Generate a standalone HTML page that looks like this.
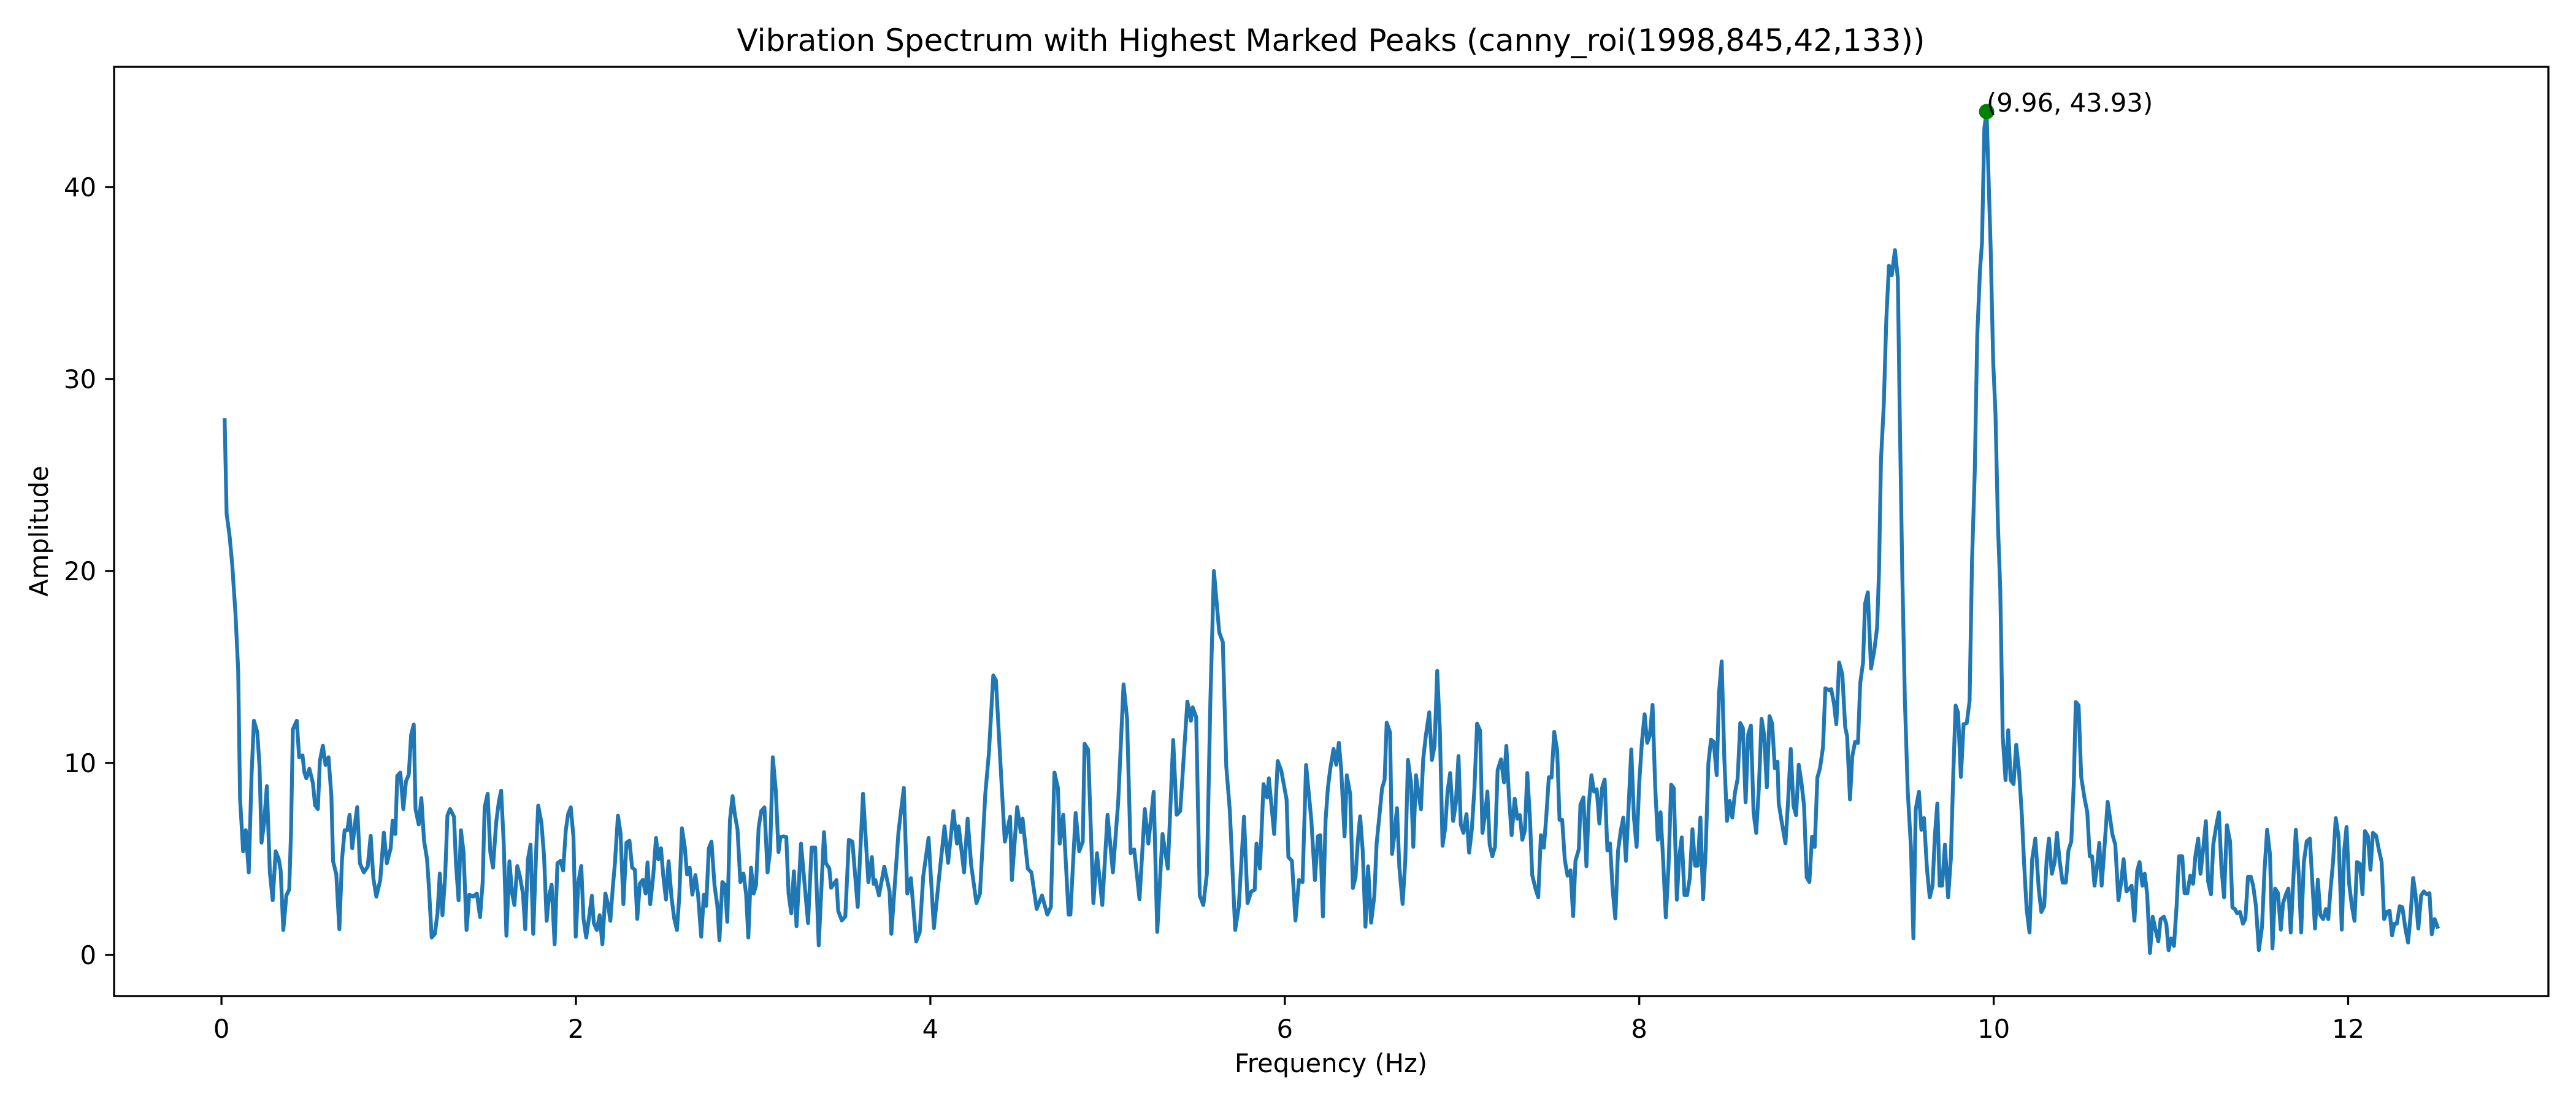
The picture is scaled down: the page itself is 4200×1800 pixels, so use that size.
<!DOCTYPE html>
<html><head><meta charset="utf-8"><style>
html,body{margin:0;padding:0;background:#fff;}
svg{display:block;font-family:"DejaVu Sans","Liberation Sans",sans-serif;}
</style></head><body>
<svg id="chart" width="4200" height="1800" viewBox="0 0 4200 1800" xmlns="http://www.w3.org/2000/svg">
<rect width="4200" height="1800" fill="#fff"/>
<text x="2170" y="83" font-size="50" text-anchor="middle">Vibration Spectrum with Highest Marked Peaks (canny_roi(1998,845,42,133))</text>
<g id="plot"></g>
<g id="xticks"></g>
<g id="yticks"></g>
<text x="2170" y="1748" font-size="41.7" text-anchor="middle">Frequency (Hz)</text>
<text x="0" y="0" font-size="41.7" text-anchor="middle" transform="translate(78,866) rotate(-90)">Amplitude</text>
<rect x="186" y="109" width="3969" height="1515" fill="none" stroke="#000" stroke-width="3.3"/>
</svg>
<script>
const freqs=[
0.018,0.029,0.046,0.061,0.079,0.094,0.105,0.122,0.137,0.154,
0.170,0.183,0.202,0.215,0.226,0.241,0.256,0.273,0.289,0.306,
0.323,0.334,0.349,0.366,0.382,0.392,0.403,0.425,0.438,0.457,
0.468,0.479,0.496,0.516,0.528,0.544,0.555,0.572,0.587,0.604,
0.620,0.630,0.648,0.665,0.680,0.695,0.710,0.723,0.738,0.754,
0.766,0.781,0.803,0.825,0.842,0.857,0.874,0.896,0.916,0.933,
0.955,0.966,0.981,0.992,1.009,1.026,1.041,1.057,1.070,1.085,
1.095,1.113,1.128,1.143,1.160,1.171,1.186,1.204,1.219,1.232,
1.247,1.262,1.275,1.290,1.312,1.323,1.338,1.351,1.366,1.383,
1.398,1.420,1.441,1.459,1.474,1.485,1.502,1.517,1.532,1.550,
1.565,1.578,1.593,1.608,1.625,1.640,1.653,1.669,1.684,1.701,
1.714,1.729,1.744,1.759,1.777,1.787,1.805,1.820,1.835,1.848,
1.863,1.880,1.896,1.913,1.928,1.943,1.956,1.971,1.986,1.999,
2.014,2.030,2.043,2.058,2.073,2.090,2.101,2.118,2.134,2.149,
2.166,2.181,2.194,2.209,2.220,2.237,2.252,2.268,2.285,2.302,
2.317,2.333,2.346,2.361,2.378,2.393,2.404,2.419,2.436,2.452,
2.465,2.480,2.493,2.508,2.523,2.540,2.555,2.570,2.583,2.598,
2.614,2.627,2.642,2.657,2.674,2.689,2.707,2.722,2.735,2.750,
2.765,2.782,2.798,2.810,2.826,2.841,2.854,2.869,2.884,2.897,
2.912,2.928,2.945,2.960,2.973,2.988,3.003,3.016,3.031,3.046,
3.064,3.081,3.096,3.111,3.128,3.143,3.154,3.172,3.187,3.200,3.215,3.230,3.245,
3.27,3.31,3.33,3.35,3.37,3.40,3.41,3.43,3.44,3.47,
3.48,3.50,3.52,3.54,3.56,3.59,3.62,3.65,3.67,3.68,
3.69,3.71,3.74,3.77,3.78,3.82,3.85,3.87,3.89,3.92,
3.94,3.96,3.99,4.02,4.05,4.08,4.10,4.13,4.15,4.16,
4.19,4.21,4.23,4.26,4.28,4.31,4.33,4.355,4.37,4.40,
4.42,4.45,4.46,4.49,4.51,4.52,4.55,4.57,4.60,4.63,
4.66,4.68,4.70,4.72,4.73,4.75,4.78,4.79,4.82,4.84,
4.86,4.87,4.89,4.92,4.94,4.97,5.00,5.03,5.06,5.09,
5.11,5.13,5.15,5.18,5.21,5.23,5.26,5.28,5.31,5.34,
5.37,5.39,5.41,5.45,5.47,5.48,5.50,5.52,5.54,5.56,
5.58,5.60,5.63,5.65,5.67,5.69,5.72,5.74,5.77,5.79,
5.81,5.83,5.84,5.86,5.88,5.90,5.91,5.94,5.96,5.98,
6.00,6.01,6.02,6.04,6.06,6.08,6.10,6.12,6.15,6.17,
6.187,6.200,6.215,6.230,6.243,6.256,6.275,6.290,6.305,6.318,
6.337,6.350,6.369,6.384,6.399,6.412,6.425,6.440,6.455,6.470,
6.487,6.505,6.518,6.534,6.549,6.563,6.575,6.594,6.605,6.618,
6.633,6.646,6.665,6.680,6.695,6.712,6.725,6.740,6.755,6.768,
6.781,6.796,6.815,6.830,6.845,6.860,6.875,6.890,6.905,6.918,
6.933,6.950,6.965,6.980,6.993,7.008,7.025,7.040,7.055,7.070,
7.085,7.102,7.115,7.130,7.143,7.156,7.171,7.186,7.201,7.220,
7.237,7.250,7.265,7.280,7.297,7.312,7.327,7.340,7.355,7.368,
7.383,7.396,7.415,7.430,7.445,7.462,7.475,7.490,7.505,7.520,
7.537,7.550,7.565,7.580,7.595,7.612,7.627,7.640,7.659,7.668,
7.685,7.702,7.715,7.730,7.745,7.760,7.775,7.790,7.805,7.820,
7.835,7.850,7.865,7.880,7.895,7.910,7.925,7.940,7.955,7.970,
7.985,8.000,8.015,8.030,8.045,8.060,8.075,8.090,8.105,8.120,
8.135,8.150,8.165,8.180,8.195,8.212,8.225,8.240,8.255,8.270,
8.285,8.300,8.315,8.330,8.345,8.360,8.375,8.390,8.405,8.420,
8.437,8.450,8.465,8.480,8.495,8.510,8.525,8.540,8.555,8.570,
8.585,8.600,8.615,8.630,8.645,8.660,8.675,8.690,8.705,8.720,
8.735,8.750,8.765,8.780,8.787,8.802,8.825,8.840,8.855,8.870,
8.885,8.900,8.915,8.930,8.945,8.960,8.975,8.990,9.005,9.020,
9.037,9.050,
9.072,9.083,9.099,9.112,9.128,9.146,9.162,9.173,9.189,9.202,
9.218,9.234,9.247,9.263,9.274,9.290,9.308,9.326,9.342,9.353,
9.364,9.380,9.394,9.409,9.425,9.443,9.459,9.470,9.484,9.499,
9.515,9.533,9.547,9.560,9.578,9.592,9.607,9.623,9.639,9.655,
9.668,9.682,9.695,9.709,9.725,9.743,9.758,9.772,9.785,9.799,
9.815,9.830,9.848,9.864,9.878,9.893,9.907,9.923,9.934,9.947,
9.96,9.983,9.997,10.010,10.024,10.037,10.051,10.067,10.082,10.096,
10.112,10.127,10.143,10.159,10.172,10.186,10.202,10.217,10.235,10.254,
10.269,10.285,10.299,10.312,10.328,10.344,10.357,10.371,10.389,10.407,
10.422,10.438,10.452,10.463,10.479,10.494,10.512,10.528,10.542,10.555,
10.569,10.582,10.596,10.609,10.625,10.643,10.659,10.670,10.686,10.704,
10.719,10.733,10.749,10.767,10.778,10.794,10.810,10.823,10.839,10.852,
10.866,10.882,10.897,10.913,10.929,10.942,10.960,10.974,10.987,11.001,
11.017,11.032,11.046,11.064,11.077,11.093,11.109,11.125,11.138,11.154,
11.167,11.183,11.197,11.210,11.226,11.239,11.255,11.271,11.285,11.300,
11.316,11.334,11.347,11.361,11.374,11.390,11.406,11.420,11.435,11.451,
11.464,11.480,11.496,11.514,11.528,11.543,11.559,11.573,11.588,11.604,
11.620,11.633,11.649,11.663,11.676,11.690,11.705,11.721,11.735,11.750,
11.766,11.784,11.800,11.813,11.829,11.843,11.859,11.874,11.888,11.901,
11.915,11.930,11.946,11.964,11.978,11.991,12.005,12.021,12.036,12.050,
12.066,12.081,12.095,12.111,12.126,12.140,12.158,12.174,12.189,12.203,
12.219,12.234,12.248,12.261,12.275,12.291,12.306,12.324,12.338,12.351,
12.367,12.380,12.396,12.412,12.427,12.443,12.459,12.472,12.488,12.504];
const amps=[
27.86,22.98,21.8,20.3,17.8,14.85,8.15,5.4,6.5,4.3,
9.4,12.2,11.6,9.8,5.85,6.9,8.8,4.3,2.85,5.4,
5.0,4.4,1.3,3.1,3.4,6.3,11.75,12.2,10.3,10.4,
9.5,9.2,9.7,8.95,7.8,7.6,10.1,10.9,9.9,10.3,
8.27,4.88,4.2,1.34,4.97,6.5,6.5,7.3,5.56,6.9,
7.7,4.78,4.3,4.6,6.2,4.0,3.04,3.9,6.37,4.78,
5.56,7.0,6.3,9.33,9.5,7.6,9.04,9.4,11.46,12.0,
7.6,6.8,8.17,5.95,4.98,3.43,0.91,1.1,2.17,4.24,
2.07,4.1,7.26,7.6,7.2,4.78,2.85,6.5,5.36,1.3,
3.14,3.04,3.2,1.98,3.8,7.69,8.4,5.36,4.55,6.9,
7.98,8.56,5.75,1.0,4.88,3.2,2.6,4.63,4.1,3.2,
1.34,4.97,5.75,1.1,5.75,7.78,6.9,5.17,1.78,3.04,
3.66,0.56,4.78,4.9,4.4,6.5,7.34,7.69,6.14,0.95,
3.8,4.63,1.88,0.91,1.88,3.08,1.65,1.3,2.07,0.56,
3.2,2.65,1.78,3.62,4.78,7.26,6.33,2.65,5.85,5.95,
4.55,4.43,1.88,3.72,3.91,3.2,4.82,2.65,4.1,6.1,
4.98,5.56,4.1,2.89,4.88,2.95,1.88,1.3,3.04,6.6,
5.65,4.2,4.55,3.14,4.16,3.14,0.95,3.14,2.56,5.56,
5.9,3.62,2.56,0.76,3.8,3.66,1.73,7.01,8.27,7.3,
6.53,3.8,4.24,3.2,0.91,4.55,3.2,3.62,6.62,7.5,
7.69,4.3,5.46,10.3,8.56,5.36,6.14,6.18,6.14,3.2,2.17,4.36,1.5,
5.8,1.66,5.6,5.6,0.5,6.4,4.8,4.5,3.5,3.9,
2.3,1.8,2.0,6.0,5.9,2.5,8.4,3.8,5.1,3.7,
3.9,3.1,4.6,3.3,1.1,6.4,8.7,3.2,4.0,0.7,
1.2,4.1,6.1,1.4,4.1,6.7,4.8,7.5,5.8,6.7,
4.3,7.1,4.7,2.7,3.2,8.4,10.5,14.56,14.3,9.2,
5.9,7.2,3.9,7.7,6.4,7.1,4.5,4.3,2.4,3.1,
2.1,2.5,9.5,8.7,5.8,7.3,2.1,2.1,7.4,5.4,
5.9,11.0,10.7,2.7,5.3,2.6,7.3,4.3,8.0,14.1,
12.3,5.3,5.5,2.9,7.6,5.8,8.5,1.2,6.3,4.5,
11.2,7.3,7.5,13.2,12.2,12.9,12.4,3.1,2.6,4.2,
13.2,20.0,16.8,16.3,9.8,7.5,1.3,2.5,7.2,2.7,
3.3,3.4,5.8,4.5,8.9,8.2,9.2,6.3,10.1,9.6,
8.6,8.1,5.1,4.9,1.8,3.9,3.8,9.9,7.0,3.9,
6.18,6.24,2.0,7.04,8.69,9.67,10.73,9.91,11.05,9.67,
6.18,9.36,8.38,3.49,4.04,5.94,7.22,5.39,1.47,4.62,
1.68,3.06,5.81,7.28,8.69,9.12,12.1,11.59,5.26,6.24,
7.65,4.59,2.66,4.96,10.16,8.99,5.63,9.36,8.38,7.59,
10.22,11.44,12.64,10.16,10.89,14.8,11.69,5.69,6.61,8.51,
9.48,6.98,7.89,10.36,6.79,6.36,7.34,5.33,6.49,8.69,
12.05,11.69,6.36,7.31,8.51,5.75,5.14,5.63,9.63,10.19,
8.99,10.89,8.26,6.24,8.14,7.1,7.28,6.0,6.49,9.48,
7.16,4.16,3.43,3.0,6.24,5.59,7.16,9.26,9.24,11.62,
10.65,7.04,7.04,4.96,4.13,4.41,2.02,4.9,5.51,7.83,
8.2,4.62,7.77,9.36,8.51,8.63,6.85,8.69,9.14,5.45,
5.81,3.37,1.9,5.39,6.43,7.16,4.9,7.77,10.71,7.16,
5.63,8.99,11.07,12.54,11.05,11.44,13.03,8.75,6.0,7.43,
4.9,1.96,4.59,8.87,8.69,2.88,5.08,6.12,3.12,3.12,
3.98,6.55,4.65,4.65,7.16,2.9,5.45,9.97,11.22,11.1,
9.36,13.64,15.29,10.22,6.98,8.02,7.16,8.44,9.18,12.08,
11.81,7.95,11.5,11.95,7.4,6.36,8.69,12.3,11.44,8.73,
12.44,12.05,9.73,10.07,7.89,7.04,5.81,8.02,10.73,7.77,
7.28,9.91,8.99,7.77,4.04,3.8,6.16,5.63,9.24,9.73,
10.83,13.89,
13.79,13.85,13.09,12.02,15.23,14.62,11.86,11.4,8.1,10.34,
11.1,11.04,14.16,15.23,18.28,18.89,14.92,15.84,17.06,19.96,
25.77,28.67,33.1,35.9,35.4,36.71,35.24,28.2,19.96,13.24,
8.5,5.6,0.86,7.58,8.5,6.52,7.13,4.53,3.0,3.61,
6.21,7.89,3.61,3.61,5.75,3.0,4.99,9.42,12.99,12.63,
9.27,12.02,12.08,13.24,20.57,25.16,32.19,35.7,37.08,43.04,
43.93,36.77,30.96,28.2,22.41,19.05,11.4,9.11,11.71,9.11,
8.9,10.95,9.57,7.28,4.68,2.39,1.17,4.99,6.06,3.46,
2.24,2.54,4.99,6.06,4.23,4.84,6.36,4.99,3.77,3.77,
5.45,5.91,8.96,13.18,13.0,9.27,8.2,7.43,5.14,5.14,
3.61,4.53,5.84,3.61,5.6,7.98,6.97,6.27,5.75,2.85,
3.77,4.99,3.31,3.46,3.61,1.78,4.38,4.84,3.61,4.23,
3.16,0.1,1.99,1.32,0.71,1.87,1.99,1.63,0.25,0.86,
0.47,2.54,5.14,5.14,3.22,3.22,4.13,3.71,5.14,6.06,
4.23,5.6,6.97,3.83,3.16,5.75,6.67,7.43,4.53,3.0,
6.76,5.91,2.48,2.39,2.17,2.24,1.63,1.87,4.07,4.07,
3.61,2.54,0.25,1.47,4.38,6.52,5.23,0.34,3.46,3.22,
1.32,2.7,3.16,3.46,1.17,3.77,6.52,4.23,1.17,4.84,
5.91,6.06,3.46,1.38,3.92,2.08,1.87,2.39,1.87,3.46,
4.84,7.13,6.15,1.32,5.45,6.67,3.77,2.54,1.78,4.84,
4.75,3.16,6.45,6.21,4.44,6.36,6.21,5.45,4.84,1.87,
2.24,2.3,1.02,1.63,1.63,2.54,2.48,1.32,0.65,1.93,
4.01,3.16,1.38,3.1,3.31,3.16,3.22,1.08,1.87,1.47];
const xTicks=[0,2,4,6,8,10,12];
const yTicks=[0,10,20,30,40];
const peakFreq=[9.96];
const peakAmp=[43.93];
const peakLabels=["(9.96, 43.93)"];

const X0=186,X1=4155,Y0=109,Y1=1624;
const XMIN=-0.606,XMAX=13.13,YMIN=-2.14,YMAX=46.26;
function sx(v){return X0+(v-XMIN)/(XMAX-XMIN)*(X1-X0);}
function sy(v){return Y1-(v-YMIN)/(YMAX-YMIN)*(Y1-Y0);}
const NS='http://www.w3.org/2000/svg';
const plot=document.getElementById('plot');
const n=Math.min(freqs.length,amps.length);
let d='';
for(let i=0;i<n;i++){d+=(i?'L':'M')+sx(freqs[i]).toFixed(1)+' '+sy(amps[i]).toFixed(1);}
const line=document.createElementNS(NS,'path');
line.setAttribute('d',d);
line.setAttribute('fill','none');
line.setAttribute('stroke','#1f77b4');
line.setAttribute('stroke-width','6.25');
line.setAttribute('stroke-linejoin','round');
line.setAttribute('stroke-linecap','square');


plot.appendChild(line);
for(let i=0;i<peakFreq.length;i++){
  const c=document.createElementNS(NS,'circle');
  c.setAttribute('cx',sx(peakFreq[i]));c.setAttribute('cy',sy(peakAmp[i]));c.setAttribute('r','12.5');c.setAttribute('fill','#008000');
  
  
  plot.appendChild(c);
  const t=document.createElementNS(NS,'text');
  t.setAttribute('x',sx(peakFreq[i]));t.setAttribute('y',sy(peakAmp[i]));t.setAttribute('font-size','41.7');
  t.textContent=peakLabels[i];
  
  
  plot.appendChild(t);
}
const xg=document.getElementById('xticks');
xTicks.forEach(v=>{
  const l=document.createElementNS(NS,'line');
  l.setAttribute('x1',sx(v));l.setAttribute('x2',sx(v));l.setAttribute('y1',Y1);l.setAttribute('y2',Y1+14.6);l.setAttribute('stroke','#000');l.setAttribute('stroke-width','3.3');
  
  
  xg.appendChild(l);
  const t=document.createElementNS(NS,'text');
  t.setAttribute('x',sx(v));t.setAttribute('y',Y1+29+39);t.setAttribute('font-size','41.7');t.setAttribute('text-anchor','middle');
  t.textContent=String(v);
  
  
  xg.appendChild(t);
});
const yg=document.getElementById('yticks');
yTicks.forEach(v=>{
  const l=document.createElementNS(NS,'line');
  l.setAttribute('x1',X0-14.6);l.setAttribute('x2',X0);l.setAttribute('y1',sy(v));l.setAttribute('y2',sy(v));l.setAttribute('stroke','#000');l.setAttribute('stroke-width','3.3');
  
  
  yg.appendChild(l);
  const t=document.createElementNS(NS,'text');
  t.setAttribute('x',X0-29);t.setAttribute('y',sy(v)+15);t.setAttribute('font-size','41.7');t.setAttribute('text-anchor','end');
  t.textContent=String(v);
  
  
  yg.appendChild(t);
});
</script>
</body></html>
